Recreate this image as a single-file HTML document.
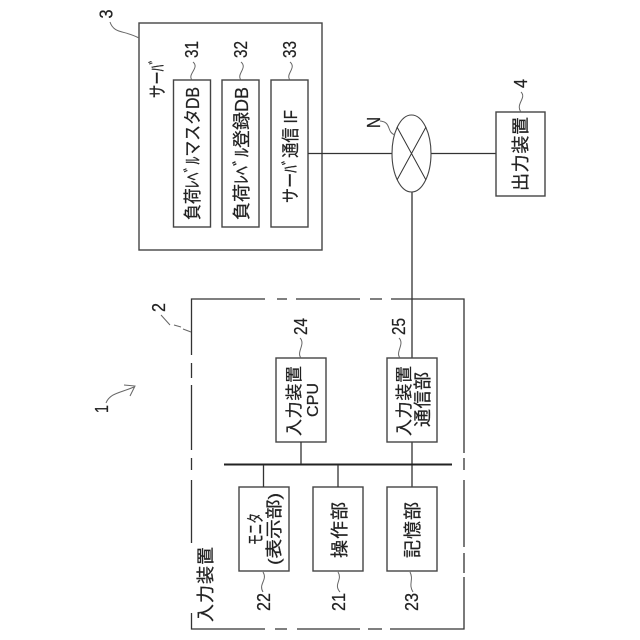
<!DOCTYPE html>
<html><head><meta charset="utf-8"><style>
html,body{margin:0;padding:0;background:#fff}
svg{display:block}
text{font-family:"Liberation Sans","Noto Sans CJK JP",sans-serif;fill:#222;stroke:#222;stroke-width:.25}
.b{fill:none;stroke:#444;stroke-width:1.4}
.l{fill:none;stroke:#333;stroke-width:1.3}
.s{fill:none;stroke:#666;stroke-width:1}
</style></head><body>
<svg width="640" height="640" viewBox="0 0 640 640" xmlns="http://www.w3.org/2000/svg">
<rect width="640" height="640" fill="#fff"/>
<!-- server -->
<rect class="b" x="139" y="23" width="183" height="227"/>
<rect class="b" x="173.500" y="80" width="37" height="147"/>
<rect class="b" x="222" y="80" width="37" height="147"/>
<rect class="b" x="271" y="80" width="37" height="147"/>
<text transform="translate(164,98) rotate(-90)" font-size="18" textLength="40" lengthAdjust="spacingAndGlyphs">サーﾊﾞ</text>
<text transform="translate(199,220) rotate(-90)" font-size="18" textLength="133" lengthAdjust="spacingAndGlyphs">負荷ﾚﾍﾞﾙマスタDB</text>
<text transform="translate(248,220) rotate(-90)" font-size="18" textLength="133" lengthAdjust="spacingAndGlyphs">負荷ﾚﾍﾞﾙ登録DB</text>
<text transform="translate(297,203) rotate(-90)" font-size="18" textLength="93" lengthAdjust="spacingAndGlyphs">サーﾊﾞ通信 IF</text>
<!-- network -->
<path class="l" d="M308 153.500H392M431 153.500H496M412 192V358M412 442V487"/>
<ellipse class="b" cx="411.500" cy="153.500" rx="19.500" ry="38.500" style="stroke-width:1.100"/>
<path class="l" d="M397 127L426 180M426 127L397 180" style="stroke-width:1"/>
<rect class="b" x="496" y="112" width="49" height="84"/>
<text transform="translate(527,191) rotate(-90)" font-size="18" textLength="74" lengthAdjust="spacing">出力装置</text>
<!-- input device dashed -->
<path class="l" d="M191.500 355V299H265M277 299H287M296 299H360M370 299H382M391 299H464V453M464 458V470M464 480V547M464 553V573M464 577V629H390M382 629H368M360 629H297M287 629H275M265 629H191.500V613M191.500 543V480M191.500 470V458M191.500 450V385M191.500 378V363"/>
<rect class="b" x="276" y="358" width="50" height="84"/>
<rect class="b" x="387" y="358" width="50" height="84"/>
<rect class="b" x="239" y="487" width="50" height="84"/>
<rect class="b" x="313" y="487" width="50" height="84"/>
<rect class="b" x="387" y="487" width="50" height="84"/>
<path d="M224 464.500H452" fill="none" stroke="#222" stroke-width="2"/>
<path class="l" d="M301 442V464M263.500 465V487M338 465V487"/>
<text transform="translate(300,436) rotate(-90)" font-size="17" textLength="70" lengthAdjust="spacing">入力装置</text>
<text transform="translate(318,417) rotate(-90)" font-size="16" textLength="34" lengthAdjust="spacingAndGlyphs">CPU</text>
<text transform="translate(410,436) rotate(-90)" font-size="17" textLength="70" lengthAdjust="spacing">入力装置</text>
<text transform="translate(429,427) rotate(-90)" font-size="18" textLength="55" lengthAdjust="spacing">通信部</text>
<text transform="translate(262,545) rotate(-90)" font-size="18" textLength="32" lengthAdjust="spacingAndGlyphs">モニタ</text>
<text transform="translate(280,565) rotate(-90)" font-size="17" textLength="72" lengthAdjust="spacingAndGlyphs">(表示部)</text>
<text transform="translate(346,558) rotate(-90)" font-size="18" textLength="56" lengthAdjust="spacing">操作部</text>
<text transform="translate(419,558) rotate(-90)" font-size="18" textLength="56" lengthAdjust="spacing">記憶部</text>
<text transform="translate(212,622) rotate(-90)" font-size="18" textLength="75" lengthAdjust="spacing">入力装置</text>
<!-- reference numerals -->
<g font-size="18">
<text transform="translate(112.500,18.500) rotate(-90)" textLength="9" lengthAdjust="spacingAndGlyphs">3</text>
<text transform="translate(198,58) rotate(-90)" textLength="17" lengthAdjust="spacingAndGlyphs">31</text>
<text transform="translate(247,58) rotate(-90)" textLength="17" lengthAdjust="spacingAndGlyphs">32</text>
<text transform="translate(296,58) rotate(-90)" textLength="17" lengthAdjust="spacingAndGlyphs">33</text>
<text transform="translate(527,88) rotate(-90)" textLength="9" lengthAdjust="spacingAndGlyphs">4</text>
<text transform="translate(380,128) rotate(-90)" textLength="11" lengthAdjust="spacingAndGlyphs">N</text>
<text transform="translate(165,312) rotate(-90)" textLength="9" lengthAdjust="spacingAndGlyphs">2</text>
<text transform="translate(108,413) rotate(-90)" textLength="8" lengthAdjust="spacingAndGlyphs">1</text>
<text transform="translate(307,335) rotate(-90)" textLength="17" lengthAdjust="spacingAndGlyphs">24</text>
<text transform="translate(405,335) rotate(-90)" textLength="17" lengthAdjust="spacingAndGlyphs">25</text>
<text transform="translate(270,611) rotate(-90)" textLength="18" lengthAdjust="spacingAndGlyphs">22</text>
<text transform="translate(345,611) rotate(-90)" textLength="18" lengthAdjust="spacingAndGlyphs">21</text>
<text transform="translate(418,611) rotate(-90)" textLength="18" lengthAdjust="spacingAndGlyphs">23</text>
</g>
<!-- leaders -->
<path class="s" d="M110 22C114 34 124 30 139 38"/>
<path class="s" d="M193 62C200 68 187 74 192 80"/>
<path class="s" d="M241 62C248 68 236 74 241 80"/>
<path class="s" d="M290 62C297 68 285 74 290 80"/>
<path class="s" d="M521 92C527 98 515 104 521 112"/>
<path class="s" d="M380 121C392 122 386 132 395 135"/>
<path class="s" d="M161 315L170 325" />
<path class="s" d="M174 325L181 327"/>
<path class="s" d="M183 329L191 332"/>
<path class="s" d="M300 338C306 344 296 352 301 358"/>
<path class="s" d="M399 338C405 344 395 352 400 358"/>
<path class="s" d="M263 572C268 580 258 584 263 592"/>
<path class="s" d="M338 572C343 580 333 584 340 592"/>
<path class="s" d="M410 572C414 580 408 584 413 592"/>
<path class="s" d="M106 403C110 393 120 393 134 387"/>
<path class="s" d="M124 385L135 386L130 396"/>
</svg>
</body></html>
